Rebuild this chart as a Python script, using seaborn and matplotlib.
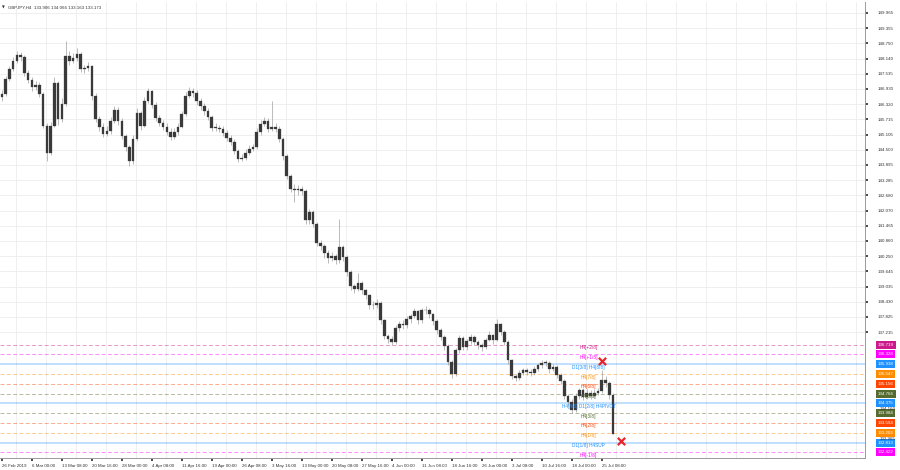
"""
GBPJPY H4 chart with Murrey Math levels, MT4 style.
"""

import matplotlib
matplotlib.use("Agg")
import matplotlib.pyplot as plt
import matplotlib.transforms as mtransforms
import seaborn as sns
import pandas as pd
import numpy as np

# ---- data ----
first_open = 146.60

closes = [
    146.738, 147.335, 147.734, 148.053, 148.292, 148.212, 147.574, 147.296, 147.017, 147.096,
    146.738, 145.463, 144.387, 145.463, 147.176, 145.742, 146.339, 148.252, 148.053, 148.172,
    148.331, 147.734, 147.774, 147.853, 146.658, 145.742, 145.423, 145.144, 145.264, 145.662,
    146.100, 145.662, 145.065, 144.626, 144.068, 144.945, 145.981, 145.463, 146.459, 146.857,
    146.300, 145.782, 145.582, 145.423, 145.224, 145.025, 145.224, 145.423, 145.941, 146.658,
    146.857, 146.778, 146.459, 146.260, 146.061, 145.821, 145.383, 145.383, 145.343, 145.184,
    144.985, 144.825, 144.467, 144.148, 144.188, 144.387, 144.547, 144.626, 145.224, 145.543,
    145.662, 145.343, 145.423, 145.343, 144.945, 144.268, 143.471, 142.953, 142.913, 142.953,
    142.873, 141.678, 141.997, 141.519, 140.762, 140.642, 140.363, 140.164, 140.244, 140.084,
    140.602, 140.204, 139.606, 139.049, 138.929, 139.168, 138.889, 138.690, 138.292, 138.292,
    138.371, 137.694, 137.057, 136.937, 136.818, 137.375, 137.535, 137.495, 137.734, 137.853,
    138.053, 137.694, 138.092, 138.092, 137.933, 137.654, 137.296, 137.017, 136.658, 136.021,
    135.543, 136.499, 136.977, 136.618, 136.857, 137.017, 136.818, 136.698, 136.618, 136.897,
    137.096, 136.897, 137.535, 137.216, 136.818, 136.100, 135.463, 135.383, 135.582, 135.702,
    135.622, 135.582, 135.742, 135.901, 135.981, 135.981, 135.742, 135.821, 135.503, 135.264,
    134.666, 134.427, 134.108, 134.666, 134.905, 134.626, 134.786, 134.666, 134.786, 134.865,
    135.304, 135.184, 134.706, 133.173,
]

highs = [
    146.90, 147.45, 147.85, 148.20, 148.45, 148.40, 148.30, 147.70, 147.40, 147.25,
    147.20, 146.80, 145.55, 145.60, 147.40, 147.25, 146.55, 148.85, 148.45, 148.35,
    148.55, 148.40, 147.90, 148.00, 147.90, 146.75, 145.85, 145.55, 145.45, 145.80,
    146.25, 146.20, 145.75, 145.15, 144.70, 145.10, 146.15, 146.05, 146.60, 146.95,
    146.90, 146.40, 145.90, 145.70, 145.55, 145.35, 145.35, 145.55, 146.05, 146.80,
    147.00, 146.95, 146.90, 146.55, 146.35, 146.15, 145.90, 145.55, 145.50, 145.45,
    145.30, 145.10, 144.95, 144.55, 144.35, 144.55, 144.70, 144.75, 145.35, 145.70,
    145.80, 145.75, 146.45, 145.55, 145.45, 145.00, 144.35, 143.55, 143.15, 143.10,
    143.05, 142.95, 142.15, 142.10, 141.60, 140.90, 140.75, 140.50, 140.40, 140.35,
    141.75, 140.70, 140.30, 139.70, 139.15, 139.60, 139.25, 138.95, 138.75, 138.45,
    138.55, 138.45, 137.75, 137.15, 137.05, 137.50, 137.65, 137.70, 137.85, 137.95,
    138.20, 138.10, 138.20, 138.25, 138.20, 138.00, 137.75, 137.40, 137.10, 136.75,
    136.10, 136.60, 137.10, 137.05, 136.95, 137.15, 137.10, 136.90, 136.80, 137.00,
    137.25, 137.15, 137.75, 137.60, 137.30, 136.90, 136.15, 135.55, 135.70, 135.80,
    135.80, 135.75, 135.85, 136.00, 136.10, 136.10, 136.05, 135.95, 135.90, 135.60,
    135.35, 134.75, 134.55, 134.80, 135.00, 135.00, 134.95, 134.90, 134.95, 135.00,
    135.70, 135.45, 135.25, 134.78,
]

lows = [
    146.45, 146.65, 147.25, 147.65, 147.95, 148.05, 147.45, 147.15, 146.85, 146.90,
    146.60, 145.35, 144.05, 144.30, 145.40, 145.50, 145.60, 146.25, 147.90, 147.95,
    148.05, 147.60, 147.55, 147.65, 146.50, 145.60, 145.25, 145.00, 145.05, 145.15,
    145.55, 145.50, 144.95, 144.45, 143.85, 143.95, 144.85, 145.30, 145.40, 146.35,
    146.15, 145.65, 145.45, 145.30, 145.10, 144.90, 144.95, 145.10, 145.35, 145.85,
    146.55, 146.60, 146.30, 146.10, 145.90, 145.70, 145.25, 145.25, 145.20, 145.05,
    144.85, 144.70, 144.35, 144.00, 144.05, 144.10, 144.30, 144.45, 144.55, 145.10,
    145.45, 145.20, 145.25, 145.20, 144.80, 144.10, 143.35, 142.80, 142.40, 142.70,
    142.70, 141.55, 141.55, 141.40, 140.65, 140.50, 140.20, 140.00, 140.05, 139.95,
    140.00, 140.05, 139.45, 138.90, 138.80, 138.85, 138.75, 138.55, 138.15, 138.15,
    138.20, 137.55, 136.95, 136.80, 136.70, 136.75, 137.25, 137.35, 137.40, 137.60,
    137.80, 137.55, 137.60, 137.95, 137.80, 137.50, 137.15, 136.90, 136.50, 135.90,
    135.40, 135.45, 136.40, 136.50, 136.50, 136.75, 136.70, 136.55, 136.45, 136.55,
    136.85, 136.75, 136.85, 137.10, 136.70, 135.95, 135.35, 135.25, 135.30, 135.50,
    135.50, 135.45, 135.50, 135.65, 135.80, 135.85, 135.60, 135.65, 135.40, 135.15,
    134.55, 134.30, 134.00, 134.05, 134.55, 134.50, 134.55, 134.55, 134.60, 134.70,
    134.80, 135.05, 134.55, 133.16,
]

date_labels = [
    "26 Feb 2019", "6 Mar 00:00", "13 Mar 08:00", "20 Mar 16:00", "28 Mar 00:00",
    "4 Apr 08:00", "11 Apr 16:00", "19 Apr 00:00", "26 Apr 08:00", "3 May 16:00",
    "13 May 00:00", "20 May 08:00", "27 May 16:00", "4 Jun 00:00", "11 Jun 08:00",
    "18 Jun 16:00", "26 Jun 00:00", "3 Jul 08:00", "10 Jul 16:00", "18 Jul 00:00",
    "25 Jul 08:00",
]

price_ticks = [
    149.965, 149.355, 148.750, 148.140, 147.535, 146.930, 146.320, 145.715,
    145.105, 144.500, 143.895, 143.285, 142.680, 142.070, 141.465, 140.860,
    140.250, 139.645, 139.035, 138.430, 137.825, 137.215,
]

level_prices = [136.719, 136.328, 135.938, 135.547, 135.156, 134.766,
                134.375, 133.984, 133.594, 133.203, 132.813, 132.422]
level_names = ["H4[+2/8]", "H4[+1/8]", "D1[3/8] H4[8/8]", "H4[7/8]", "H4[6/8]",
               "H4[5/8]", "H4[4/8] D1[2/8] H4PIVOT", "H4[3/8]", "H4[2/8]",
               "H4[1/8]", "D1[1/8] H4SUP", "H4[-1/8]"]
level_colors = ["#cc1a8c", "#ff00ff", "#1e90ff", "#ff8c00", "#ff4500", "#556b2f",
                "#1e90ff", "#556b2f", "#ff4500", "#ff8c00", "#1e90ff", "#ff00ff"]
level_solid = [False, False, True, False, False, False,
               True, False, False, False, True, False]

plain_prices = [134.160, 132.965]

signal_bars = [160, 165]
signal_prices = [136.06, 132.87]

header = "GBPJPY,H4  133.906 134.066 133.163 133.173"

# ---- style ----
sns.set_theme(style="white")
plt.rcParams["font.family"] = ["Liberation Sans", "DejaVu Sans"]
FS = 3.2

df = pd.DataFrame({"close": closes, "high": highs, "low": lows})
df["open"] = [first_open] + closes[:-1]
df["bar"] = np.arange(len(df))

fig = plt.figure(figsize=(9, 4.7), dpi=100)
ax = fig.add_axes([0.0, 1 - 458 / 470, 865 / 900, 456 / 470])
ax.set_xlim(-0.5, 230.2)
ax.set_ylim(132.196, 150.40)

# grid
ax.set_yticks(price_ticks)
ax.set_yticklabels([f"{p:.3f}" for p in price_ticks])
ax.set_xticks(np.arange(3.7, 231, 8), minor=True)
ax.grid(axis="y", which="major", color="#ededed", lw=0.6)
ax.grid(axis="x", which="minor", color="#ededed", lw=0.6)
ax.set_axisbelow(True)

# levels
for p, c, solid in zip(level_prices, level_colors, level_solid):
    if solid:
        ax.axhline(p, color=c, alpha=0.3, lw=1.3, zorder=1)
    else:
        ax.axhline(p, color=c, alpha=0.45, lw=0.7, ls=(0, (4, 2.5)), zorder=1)

# candles
ax.vlines(df["bar"], df["low"], df["high"], color="#a0a0a0", lw=0.5, zorder=2)
body_lo = df[["open", "close"]].min(axis=1)
body_h = np.maximum((df["close"] - df["open"]).abs(), 0.03)
ax.bar(df["bar"], body_h, bottom=body_lo, width=0.72, color="#3a3a3a",
       edgecolor="#3a3a3a", lw=0.2, zorder=3)

# level names on chart
for p, name, c in zip(level_prices, level_names, level_colors):
    ax.text(156.5, p - 0.02, name, color=c, fontsize=FS + 0.2, ha="center", va="top",
            zorder=4)

# signal crosses
sns.scatterplot(x=signal_bars, y=signal_prices, marker="x", s=28, color="#e8242a",
                linewidth=1.6, ax=ax, zorder=5, legend=False)

# axes look
ax.yaxis.tick_right()
ax.tick_params(axis="y", which="major", labelsize=FS, length=2, pad=7,
               colors="#333333", labelright=True, labelleft=False, right=True)
ax.set_xticks([8 * k for k in range(len(date_labels))])
ax.set_xticklabels(date_labels)
for t in ax.get_xticklabels():
    t.set_ha("left")
ax.tick_params(axis="x", which="major", labelsize=FS, length=2, pad=2,
               colors="#333333", bottom=True)
ax.tick_params(which="minor", length=0)
for s in ax.spines.values():
    s.set_color("#9a9a9a")
    s.set_linewidth(0.7)
ax.spines["top"].set_visible(False)
ax.spines["left"].set_visible(False)

# right-side price boxes
trans = mtransforms.blended_transform_factory(ax.transAxes, ax.transData)
for p, c in zip(level_prices, level_colors):
    ax.text(1.0145, p, f"{p:.3f}", transform=trans, fontsize=FS, color="white",
            ha="left", va="center", clip_on=False, zorder=6,
            bbox=dict(boxstyle="square,pad=0.45", fc=c, ec="none"))
for p in plain_prices:
    ax.text(1.017, p, f"{p:.3f}", transform=trans, fontsize=FS, color="#333333",
            ha="left", va="center", clip_on=False, zorder=7)

# header
fig.text(0.002, 0.985, "\u25BC", fontsize=2.6, color="#333333", ha="left", va="center",
         family=["DejaVu Sans"])
fig.text(0.009, 0.985, header, fontsize=FS, color="#333333", ha="left", va="center")

fig.savefig("out.png", dpi=100, facecolor="white")
